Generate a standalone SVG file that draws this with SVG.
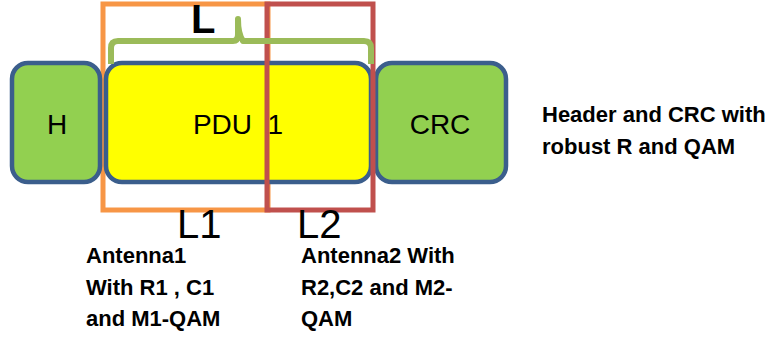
<svg xmlns="http://www.w3.org/2000/svg" width="771" height="338" viewBox="0 0 771 338">
<style>
.blk{stroke:#3B5E8C;stroke-width:4.5}
.grn{fill:#92D050}
.lbl{font-family:"Liberation Sans",Arial,sans-serif;font-size:28px;fill:#000;text-anchor:middle}
.big{font-family:"Liberation Sans",Arial,sans-serif;font-size:40px;fill:#000}
.note{font-family:"Liberation Sans",Arial,sans-serif;font-size:22px;font-weight:bold;fill:#000}
</style>
<rect width="771" height="338" fill="#fff"/>
<g id="orange-frame"><rect x="103" y="4" width="165" height="206" fill="none" stroke="#F79646" stroke-width="5"/></g>
<g id="H"><rect class="blk grn" x="12" y="63" width="88" height="119" rx="16"/><text class="lbl" x="57" y="134">H</text></g>
<g id="PDU"><rect class="blk" x="106" y="63" width="265" height="119" rx="16" fill="#FFFF00"/><text class="lbl" x="238" y="134" style="white-space:pre">PDU  1</text></g>
<g id="CRC"><rect class="blk grn" x="376" y="63" width="130" height="119" rx="16"/><text class="lbl" x="440" y="134">CRC</text></g>
<g id="red-frame"><rect x="267" y="4" width="106" height="206" fill="none" stroke="#C0504D" stroke-width="5"/></g>
<g id="brace"><path d="M111 64 V48 Q111 41 118 41 H233 Q238 41 238 34 V19 Q238 34 243 41 H364 Q371 41 371 48 V64" fill="none" stroke="#9BBB59" stroke-width="6" stroke-linejoin="round"/></g>
<g id="labels">
<text class="big" x="191" y="33" font-size="34" font-weight="bold">L</text>
<text class="big" x="177" y="238">L1</text>
<text class="big" x="297" y="238">L2</text>
<text class="note" x="542" y="122">Header and CRC with</text>
<text class="note" x="542" y="154">robust R and QAM</text>
<text class="note" x="86" y="263">Antenna1</text>
<text class="note" x="86" y="295">With R1 , C1</text>
<text class="note" x="86" y="326">and M1-QAM</text>
<text class="note" x="301" y="263">Antenna2 With</text>
<text class="note" x="301" y="295">R2,C2 and M2-</text>
<text class="note" x="301" y="326">QAM</text>
</g>
</svg>
